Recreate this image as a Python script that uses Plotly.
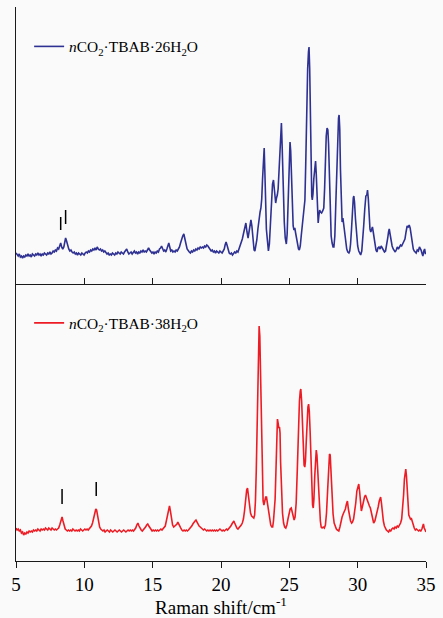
import plotly.graph_objects as go

# ---------------- data ----------------
BLUE_NAME = "<i>n</i>CO<sub>2</sub>·TBAB·26H<sub>2</sub>O"
RED_NAME = "<i>n</i>CO<sub>2</sub>·TBAB·38H<sub>2</sub>O"

blue_points = [
    (5.00, 31), (5.08, 30), (5.16, 28), (5.24, 30), (5.32, 27), (5.40, 28), (5.48, 26), (5.56, 28),
    (5.64, 27), (5.72, 29), (5.80, 28), (5.88, 30), (5.96, 28), (6.04, 29), (6.12, 27), (6.20, 30),
    (6.28, 29), (6.36, 28), (6.44, 30), (6.52, 29), (6.60, 31), (6.68, 29), (6.76, 30), (6.84, 28),
    (6.92, 30), (7.00, 29), (7.08, 31), (7.16, 30), (7.24, 29), (7.32, 31), (7.40, 30), (7.48, 32),
    (7.56, 30), (7.64, 31), (7.72, 33), (7.80, 32), (7.88, 34), (7.96, 33), (8.04, 36), (8.12, 35),
    (8.20, 38), (8.27, 41), (8.34, 37), (8.42, 35), (8.50, 37), (8.57, 42), (8.63, 46), (8.70, 43),
    (8.78, 38), (8.86, 35), (8.94, 33), (9.02, 34), (9.10, 32), (9.18, 31), (9.26, 32), (9.34, 30),
    (9.42, 31), (9.50, 29), (9.58, 31), (9.66, 30), (9.74, 29), (9.82, 31), (9.90, 30), (9.98, 29),
    (10.06, 31), (10.14, 32), (10.22, 31), (10.30, 33), (10.38, 32), (10.46, 34), (10.54, 33),
    (10.62, 35), (10.70, 34), (10.78, 36), (10.86, 34), (10.94, 37), (11.02, 35), (11.10, 34),
    (11.18, 35), (11.26, 33), (11.34, 34), (11.42, 32), (11.50, 33), (11.58, 31), (11.66, 30),
    (11.74, 31), (11.82, 29), (11.90, 30), (11.98, 29), (12.06, 31), (12.14, 30), (12.22, 29),
    (12.30, 31), (12.38, 30), (12.46, 32), (12.54, 31), (12.62, 30), (12.70, 32), (12.78, 31),
    (12.86, 30), (12.94, 32), (13.02, 33), (13.10, 35), (13.18, 32), (13.26, 30), (13.34, 31),
    (13.42, 32), (13.50, 30), (13.58, 31), (13.66, 33), (13.74, 31), (13.82, 32), (13.90, 30),
    (13.98, 32), (14.06, 31), (14.14, 33), (14.22, 32), (14.30, 34), (14.38, 32), (14.46, 33),
    (14.54, 32), (14.62, 35), (14.70, 36), (14.78, 34), (14.86, 33), (14.94, 31), (15.02, 32),
    (15.10, 30), (15.18, 32), (15.26, 31), (15.34, 33), (15.42, 32), (15.50, 35), (15.58, 36),
    (15.65, 38), (15.72, 35), (15.80, 33), (15.88, 34), (15.96, 32), (16.04, 35), (16.12, 39),
    (16.18, 41), (16.25, 37), (16.32, 33), (16.40, 34), (16.48, 32), (16.56, 33), (16.64, 32),
    (16.72, 34), (16.80, 33), (16.88, 35), (16.96, 37), (17.04, 41), (17.12, 45), (17.20, 48),
    (17.28, 50), (17.36, 46), (17.44, 40), (17.52, 35), (17.60, 33), (17.68, 32), (17.76, 31),
    (17.84, 33), (17.92, 32), (18.00, 34), (18.08, 33), (18.16, 35), (18.24, 34), (18.32, 36),
    (18.40, 35), (18.48, 37), (18.56, 36), (18.64, 37), (18.72, 36), (18.80, 38), (18.88, 37),
    (18.96, 39), (19.04, 38), (19.12, 36), (19.20, 35), (19.28, 33), (19.36, 34), (19.44, 32),
    (19.52, 33), (19.60, 31), (19.68, 33), (19.76, 32), (19.84, 31), (19.92, 33), (20.00, 32),
    (20.08, 31), (20.16, 33), (20.24, 35), (20.30, 39), (20.37, 42), (20.44, 39), (20.52, 34),
    (20.60, 31), (20.68, 30), (20.76, 31), (20.84, 29), (20.92, 30), (21.00, 32), (21.08, 31),
    (21.16, 33), (21.24, 32), (21.32, 35), (21.40, 37), (21.48, 40), (21.56, 45), (21.64, 50),
    (21.72, 56), (21.82, 61), (21.90, 52), (21.98, 46), (22.05, 52), (22.12, 60), (22.19, 64),
    (22.26, 58), (22.34, 44), (22.42, 34), (22.48, 33), (22.55, 37), (22.62, 44), (22.70, 55),
    (22.78, 66), (22.86, 72), (22.92, 76), (22.98, 85), (23.04, 105), (23.10, 127), (23.16, 136),
    (23.21, 112), (23.26, 75), (23.32, 55), (23.40, 43), (23.47, 33), (23.54, 40), (23.62, 62),
    (23.70, 88), (23.77, 100), (23.84, 104), (23.90, 95), (23.96, 84), (24.00, 81), (24.06, 86),
    (24.12, 89), (24.18, 95), (24.25, 118), (24.32, 142), (24.38, 158), (24.42, 161), (24.47, 140),
    (24.52, 108), (24.57, 82), (24.63, 62), (24.70, 46), (24.78, 40), (24.84, 50), (24.90, 80),
    (24.96, 115), (25.01, 136), (25.05, 142), (25.10, 133), (25.16, 105), (25.22, 75), (25.28, 58),
    (25.34, 54), (25.40, 56), (25.46, 51), (25.53, 44), (25.60, 38), (25.67, 35), (25.73, 34),
    (25.80, 38), (25.87, 48), (25.94, 58), (26.00, 61), (26.07, 72), (26.14, 84), (26.20, 120),
    (26.27, 175), (26.34, 215), (26.40, 232), (26.44, 237), (26.49, 215), (26.54, 160), (26.59, 110),
    (26.64, 88), (26.68, 84), (26.73, 90), (26.79, 105), (26.86, 120), (26.92, 123), (26.97, 110),
    (27.02, 85), (27.07, 66), (27.11, 61), (27.16, 68), (27.22, 74), (27.28, 72), (27.36, 71),
    (27.44, 73), (27.52, 76), (27.58, 95), (27.64, 125), (27.70, 148), (27.76, 156), (27.82, 154),
    (27.87, 140), (27.93, 105), (28.00, 70), (28.06, 48), (28.13, 41), (28.20, 37), (28.26, 37),
    (28.33, 48), (28.40, 80), (28.47, 120), (28.54, 150), (28.60, 166), (28.64, 169), (28.69, 155),
    (28.74, 115), (28.79, 80), (28.86, 62), (28.92, 66), (28.98, 58), (29.05, 50), (29.12, 42),
    (29.20, 35), (29.28, 32), (29.36, 31), (29.42, 33), (29.48, 40), (29.55, 55), (29.62, 75),
    (29.68, 86), (29.72, 88), (29.77, 82), (29.84, 65), (29.92, 48), (30.00, 38), (30.08, 33),
    (30.16, 30), (30.22, 29), (30.30, 33), (30.37, 42), (30.44, 58), (30.52, 75), (30.60, 88),
    (30.67, 89), (30.72, 94), (30.78, 85), (30.84, 68), (30.90, 55), (30.96, 52), (31.02, 56),
    (31.08, 57), (31.14, 52), (31.20, 45), (31.27, 38), (31.34, 34), (31.41, 32), (31.48, 36),
    (31.56, 37), (31.64, 35), (31.72, 38), (31.80, 36), (31.88, 34), (31.96, 32), (32.04, 33),
    (32.12, 38), (32.20, 46), (32.26, 52), (32.31, 55), (32.37, 50), (32.44, 43), (32.52, 38),
    (32.60, 35), (32.68, 33), (32.75, 32), (32.82, 34), (32.90, 37), (32.98, 35), (33.06, 37),
    (33.14, 39), (33.22, 38), (33.30, 40), (33.38, 42), (33.46, 45), (33.54, 52), (33.62, 58),
    (33.70, 57), (33.77, 59), (33.84, 56), (33.92, 48), (34.00, 40), (34.07, 35), (34.14, 33),
    (34.21, 32), (34.28, 31), (34.36, 34), (34.44, 33), (34.52, 37), (34.58, 36), (34.64, 34),
    (34.70, 31), (34.77, 28), (34.84, 33), (34.90, 35), (34.96, 30), (35.00, 31),
]

red_points = [
    (5.00, 33), (5.08, 31), (5.16, 32), (5.24, 30), (5.32, 31), (5.40, 28), (5.48, 29), (5.56, 26),
    (5.64, 28), (5.72, 27), (5.80, 29), (5.88, 28), (5.96, 30), (6.04, 29), (6.12, 30), (6.20, 29),
    (6.28, 31), (6.36, 30), (6.44, 31), (6.52, 30), (6.60, 32), (6.68, 31), (6.76, 30), (6.84, 32),
    (6.92, 31), (7.00, 32), (7.08, 31), (7.16, 33), (7.24, 32), (7.32, 31), (7.40, 33), (7.48, 32),
    (7.56, 31), (7.64, 33), (7.72, 32), (7.80, 31), (7.88, 32), (7.96, 31), (8.04, 32), (8.12, 33),
    (8.20, 36), (8.28, 40), (8.37, 44), (8.44, 40), (8.52, 34), (8.60, 32), (8.68, 31), (8.76, 30),
    (8.84, 31), (8.92, 30), (9.00, 31), (9.08, 30), (9.16, 32), (9.24, 31), (9.32, 30), (9.40, 31),
    (9.48, 30), (9.56, 31), (9.64, 30), (9.72, 32), (9.80, 31), (9.88, 30), (9.96, 31), (10.04, 32),
    (10.12, 31), (10.20, 32), (10.28, 31), (10.36, 32), (10.44, 33), (10.52, 35), (10.60, 38),
    (10.68, 43), (10.76, 49), (10.84, 52), (10.90, 51), (10.97, 45), (11.04, 38), (11.12, 34),
    (11.20, 32), (11.28, 31), (11.36, 30), (11.44, 31), (11.52, 29), (11.60, 30), (11.68, 31),
    (11.76, 30), (11.84, 29), (11.92, 31), (12.00, 30), (12.08, 29), (12.16, 30), (12.24, 31),
    (12.32, 30), (12.40, 29), (12.48, 30), (12.56, 31), (12.64, 30), (12.72, 29), (12.80, 30),
    (12.88, 31), (12.96, 30), (13.04, 29), (13.12, 30), (13.20, 31), (13.28, 30), (13.36, 31),
    (13.44, 30), (13.52, 31), (13.60, 30), (13.68, 31), (13.76, 33), (13.84, 36), (13.92, 38),
    (14.00, 35), (14.08, 32), (14.16, 31), (14.24, 30), (14.32, 31), (14.40, 32), (14.48, 34),
    (14.56, 36), (14.64, 37), (14.72, 35), (14.80, 33), (14.88, 31), (14.96, 30), (15.04, 31),
    (15.12, 30), (15.20, 31), (15.28, 30), (15.36, 31), (15.44, 30), (15.52, 31), (15.60, 32),
    (15.68, 31), (15.76, 32), (15.84, 33), (15.92, 35), (16.00, 40), (16.08, 46), (16.16, 52),
    (16.23, 55), (16.30, 50), (16.38, 42), (16.46, 36), (16.54, 34), (16.62, 35), (16.70, 36),
    (16.78, 37), (16.84, 39), (16.90, 37), (16.98, 35), (17.06, 33), (17.14, 31), (17.22, 30),
    (17.30, 31), (17.38, 30), (17.46, 31), (17.54, 30), (17.62, 31), (17.70, 32), (17.78, 33),
    (17.86, 35), (17.94, 37), (18.02, 39), (18.10, 40), (18.17, 41), (18.24, 39), (18.32, 37),
    (18.40, 35), (18.48, 34), (18.56, 33), (18.64, 32), (18.72, 31), (18.80, 32), (18.88, 31),
    (18.96, 30), (19.04, 31), (19.12, 30), (19.20, 31), (19.28, 30), (19.36, 31), (19.44, 30),
    (19.52, 31), (19.60, 30), (19.68, 31), (19.76, 30), (19.84, 31), (19.92, 32), (20.00, 31),
    (20.08, 30), (20.16, 31), (20.24, 30), (20.32, 31), (20.40, 32), (20.48, 31), (20.56, 32),
    (20.64, 33), (20.72, 35), (20.80, 37), (20.88, 39), (20.94, 40), (21.00, 38), (21.08, 35),
    (21.16, 33), (21.24, 32), (21.32, 33), (21.40, 34), (21.48, 36), (21.56, 38), (21.64, 42),
    (21.72, 50), (21.80, 62), (21.88, 71), (21.94, 73), (22.00, 66), (22.08, 56), (22.16, 48),
    (22.24, 45), (22.32, 44), (22.40, 43), (22.46, 46), (22.52, 60), (22.58, 90), (22.64, 140),
    (22.70, 195), (22.75, 228), (22.79, 235), (22.84, 225), (22.90, 180), (22.96, 120), (23.02, 80),
    (23.08, 60), (23.14, 56), (23.20, 60), (23.27, 64), (23.33, 64), (23.40, 57), (23.48, 48),
    (23.56, 40), (23.64, 36), (23.72, 34), (23.78, 34), (23.84, 40), (23.90, 48), (23.96, 62),
    (24.02, 90), (24.08, 125), (24.13, 142), (24.18, 138), (24.23, 133), (24.28, 134), (24.32, 128),
    (24.36, 99), (24.42, 70), (24.50, 48), (24.58, 38), (24.66, 34), (24.74, 33), (24.82, 36),
    (24.90, 42), (24.98, 48), (25.06, 52), (25.14, 53), (25.20, 50), (25.28, 44), (25.35, 41),
    (25.42, 44), (25.50, 58), (25.58, 90), (25.66, 130), (25.74, 160), (25.80, 170), (25.84, 172),
    (25.90, 160), (25.96, 135), (26.02, 110), (26.08, 96), (26.13, 94), (26.18, 100), (26.24, 120),
    (26.30, 142), (26.36, 154), (26.41, 157), (26.46, 150), (26.52, 130), (26.58, 100), (26.64, 72),
    (26.70, 56), (26.75, 53), (26.80, 62), (26.86, 85), (26.92, 105), (26.97, 111), (27.02, 106),
    (27.08, 90), (27.14, 70), (27.20, 52), (27.27, 40), (27.33, 34), (27.40, 33), (27.48, 34),
    (27.56, 33), (27.64, 36), (27.72, 48), (27.80, 70), (27.88, 95), (27.94, 107), (27.99, 106),
    (28.05, 90), (28.12, 65), (28.20, 47), (28.28, 38), (28.36, 34), (28.44, 32), (28.52, 31),
    (28.62, 30), (28.70, 34), (28.78, 40), (28.86, 44), (28.94, 47), (29.02, 49), (29.10, 52),
    (29.18, 57), (29.25, 60), (29.32, 52), (29.40, 44), (29.48, 40), (29.56, 38), (29.62, 39),
    (29.70, 42), (29.78, 48), (29.86, 58), (29.94, 70), (30.02, 76), (30.08, 77), (30.14, 70),
    (30.20, 56), (30.27, 50), (30.34, 54), (30.42, 60), (30.50, 64), (30.57, 66), (30.64, 63),
    (30.70, 62), (30.78, 58), (30.86, 55), (30.93, 53), (31.00, 48), (31.08, 42), (31.17, 38),
    (31.26, 40), (31.34, 44), (31.42, 48), (31.50, 54), (31.58, 60), (31.64, 63), (31.68, 64),
    (31.74, 58), (31.80, 48), (31.88, 40), (31.96, 35), (32.02, 33), (32.10, 31), (32.18, 30),
    (32.26, 29), (32.34, 31), (32.42, 30), (32.50, 32), (32.58, 33), (32.66, 32), (32.74, 34),
    (32.82, 33), (32.90, 35), (32.98, 34), (33.06, 36), (33.14, 38), (33.22, 42), (33.30, 52),
    (33.36, 66), (33.42, 82), (33.48, 90), (33.52, 92), (33.57, 85), (33.62, 70), (33.68, 55),
    (33.74, 46), (33.80, 44), (33.86, 42), (33.92, 43), (33.98, 40), (34.06, 36), (34.14, 33),
    (34.22, 31), (34.30, 32), (34.38, 31), (34.46, 30), (34.54, 31), (34.62, 30), (34.70, 32),
    (34.76, 35), (34.81, 37), (34.87, 33), (34.93, 31), (35.00, 29),
]

# short vertical marker bars above selected peaks (x, y_bottom, y_top)
blue_marks_x = [8.27, 8.63]
blue_marks_y0 = [54, 60]
blue_marks_y1 = [67, 74]
red_marks_x = [8.37, 10.87]
red_marks_y0 = [57, 65]
red_marks_y1 = [72, 79]

x_ticks = [5, 10, 15, 20, 25, 30, 35]
x_range = [5, 35]
top_y_range = [0, 277]
bottom_y_range = [0, 276]
x_title = "Raman shift/cm<sup>-1</sup>"

# ---------------- styling ----------------
BLUE = "#2E3192"
RED = "#ED1C24"
BG = "#fafafa"
AXIS = "#1a1a1a"
SERIF = "Liberation Serif"

blue_x = [p[0] for p in blue_points]
blue_y = [p[1] for p in blue_points]
red_x = [p[0] for p in red_points]
red_y = [p[1] for p in red_points]


def bars(xs, y0s, y1s):
    bx, by = [], []
    for x, a, b in zip(xs, y0s, y1s):
        bx += [x, x, None]
        by += [a, b, None]
    return bx, by


fig = go.Figure()
fig.add_trace(go.Scatter(x=blue_x, y=blue_y, mode="lines", name=BLUE_NAME,
                         line=dict(color=BLUE, width=1.6), xaxis="x", yaxis="y",
                         legend="legend"))
fig.add_trace(go.Scatter(x=red_x, y=red_y, mode="lines", name=RED_NAME,
                         line=dict(color=RED, width=1.6), xaxis="x2", yaxis="y2",
                         legend="legend2"))
bx, by = bars(blue_marks_x, blue_marks_y0, blue_marks_y1)
fig.add_trace(go.Scatter(x=bx, y=by, mode="lines", line=dict(color="black", width=1.5),
                         showlegend=False, xaxis="x", yaxis="y", hoverinfo="skip"))
rx, ry = bars(red_marks_x, red_marks_y0, red_marks_y1)
fig.add_trace(go.Scatter(x=rx, y=ry, mode="lines", line=dict(color="black", width=1.5),
                         showlegend=False, xaxis="x2", yaxis="y2", hoverinfo="skip"))

common_x = dict(range=x_range, tickvals=x_ticks, showline=True, linecolor=AXIS, linewidth=1.3,
                showgrid=False, zeroline=False, ticklen=6, tickwidth=1.3, tickcolor=AXIS,
                tickfont=dict(family=SERIF, size=19, color="black"))
common_y = dict(showline=True, linecolor=AXIS, linewidth=1.3, showgrid=False, zeroline=False,
                showticklabels=False, ticks="")

legend_style = dict(font=dict(family=SERIF, size=15.4, color="black"), bgcolor="rgba(0,0,0,0)",
                    borderwidth=0, xanchor="left", yanchor="middle", itemwidth=30)

fig.update_layout(
    width=443, height=618,
    margin=dict(l=16, r=15, t=7, b=57),
    font=dict(family=SERIF, color="black"),
    paper_bgcolor=BG, plot_bgcolor=BG,
    xaxis=dict(common_x, anchor="y", domain=[0, 1], ticks="inside", showticklabels=False),
    yaxis=dict(common_y, anchor="x", domain=[0.5, 1], range=top_y_range),
    xaxis2=dict(common_x, anchor="y2", domain=[0, 1], ticks="outside", showticklabels=True,
                title=dict(text=x_title, font=dict(family=SERIF, size=19, color="black"),
                           standoff=1)),
    yaxis2=dict(common_y, anchor="x2", domain=[0, 0.498], range=bottom_y_range),
    legend=dict(legend_style, x=0.032, y=0.928),
    legend2=dict(legend_style, x=0.032, y=0.429),
    showlegend=True,
)

fig.write_html("out.html", config={"displayModeBar": False},
               post_script="document.body.style.margin='0';")
